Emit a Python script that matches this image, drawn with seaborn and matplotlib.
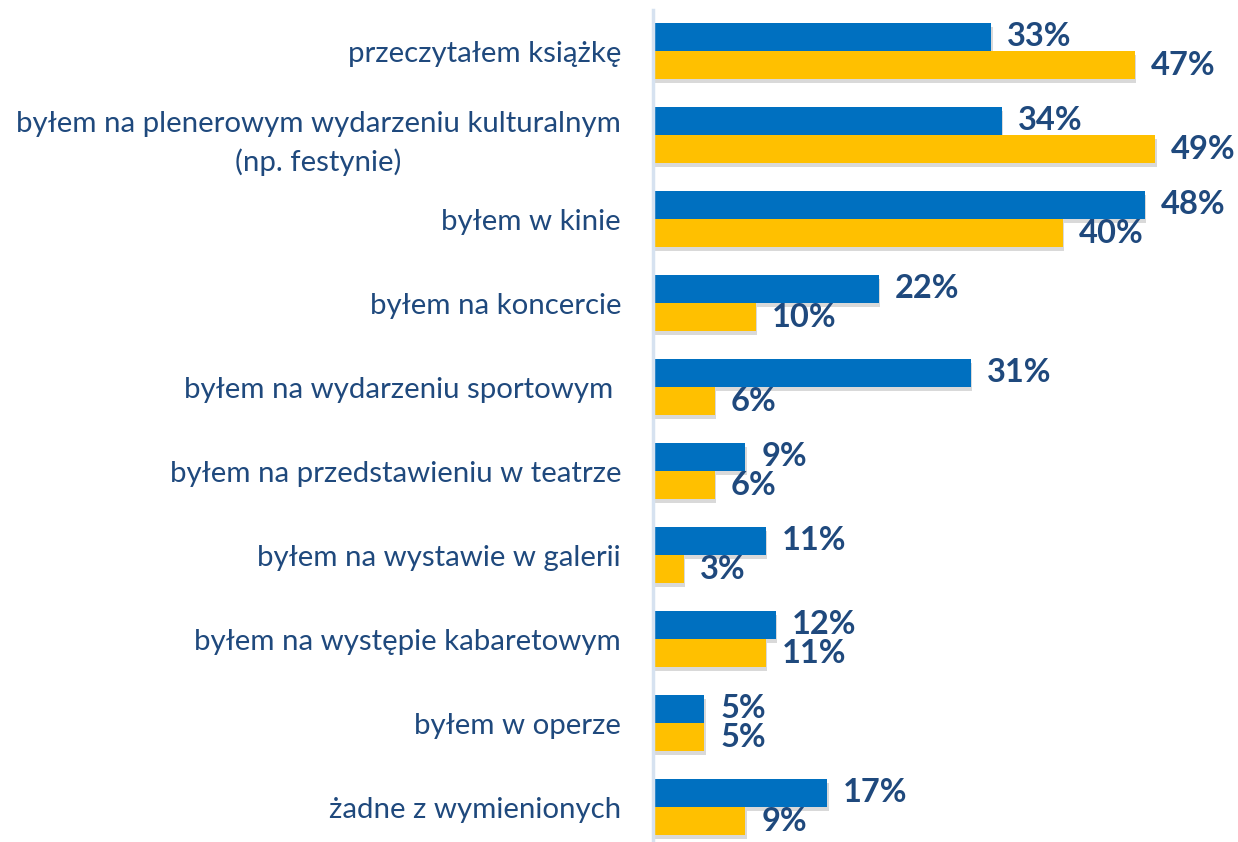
import matplotlib
matplotlib.use("Agg")
import matplotlib.pyplot as plt
import matplotlib.patheffects as pe
import seaborn as sns
import pandas as pd

categories = [
    "przeczytałem książkę",
    "byłem na plenerowym wydarzeniu kulturalnym\n(np. festynie)",
    "byłem w kinie",
    "byłem na koncercie",
    "byłem na wydarzeniu sportowym ",
    "byłem na przedstawieniu w teatrze",
    "byłem na wystawie w galerii",
    "byłem na występie kabaretowym",
    "byłem w operze",
    "żadne z wymienionych",
]
series_a = [33, 34, 48, 22, 31, 9, 11, 12, 5, 17]
series_b = [47, 49, 40, 10, 6, 6, 3, 11, 5, 9]
series_names = ["A", "B"]

df = pd.DataFrame({
    "kategoria": categories * 2,
    "wartosc": series_a + series_b,
    "seria": [series_names[0]] * len(categories) + [series_names[1]] * len(categories),
})

sns.set_theme(style="white")
plt.rcParams["font.family"] = ["Lato", "DejaVu Sans"]

W, H = 1238, 842
fig = plt.figure(figsize=(W / 100, H / 100), dpi=100)
x0 = 653
ppu = 10.25
xmax = (W - x0) / ppu
ax = fig.add_axes([x0 / W, 0, (W - x0) / W, 1])

navy = "#1F497D"
sns.barplot(data=df, y="kategoria", x="wartosc", hue="seria", order=categories,
            hue_order=series_names, palette=["#0070C0", "#FFC000"], width=0.667,
            orient="h", ax=ax, legend=False, saturation=1, linewidth=0)

for p in ax.patches:
    p.set_path_effects([pe.SimplePatchShadow(offset=(1, -3), alpha=0.22, shadow_rgbFace="#555555"),
                        pe.Normal()])

for cont in ax.containers:
    ax.bar_label(cont, labels=[f"{int(v)}%" for v in cont.datavalues], padding=11.5,
                 fontsize=23.5, fontweight="bold", color=navy)

ax.set_xlim(0, xmax)
top = -51 / 84
bottom = (H - 51) / 84
ax.set_ylim(bottom, top)
ax.set_xlabel("")
ax.set_ylabel("")
ax.set_xticks([])
ax.tick_params(axis="y", length=0, pad=23)
ax.set_yticks(range(len(categories)))
ax.set_yticklabels(categories, fontsize=21.2, color=navy, multialignment="center",
                   linespacing=1.5)
for s in ["top", "right", "bottom"]:
    ax.spines[s].set_visible(False)
ax.spines["left"].set_color("#D6E2F0")
ax.spines["left"].set_linewidth(2.5)
ax.spines["left"].set_bounds(bottom, -0.49)

fig.savefig("out.png", dpi=100)
